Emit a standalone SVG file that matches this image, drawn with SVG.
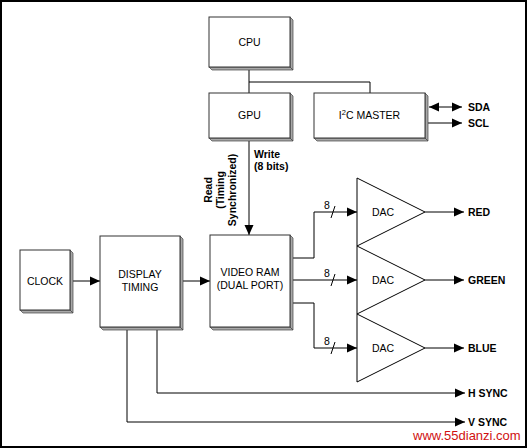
<svg xmlns="http://www.w3.org/2000/svg" width="527" height="448" viewBox="0 0 527 448">
<defs>
<marker id="ah" markerUnits="userSpaceOnUse" markerWidth="10" markerHeight="10" refX="10" refY="5" orient="auto">
<path d="M0,0.5 L10,5 L0,9.5 z" fill="#000"/>
</marker>
<marker id="ahs" markerUnits="userSpaceOnUse" markerWidth="10" markerHeight="10" refX="10" refY="5" orient="auto-start-reverse">
<path d="M0,0.5 L10,5 L0,9.5 z" fill="#000"/>
</marker>
</defs>
<style>
.box{fill:#fff;stroke:#333;stroke-width:1}
.sh{fill:#a8a8a8;stroke:#444;stroke-width:0.7}
.t{font-family:"Liberation Sans",Arial,sans-serif;font-size:10.5px;fill:#000;text-anchor:middle}
.b{font-family:"Liberation Sans",Arial,sans-serif;font-size:10.5px;font-weight:bold;fill:#000}
.w{fill:none;stroke:#000;stroke-width:1}
.a{fill:none;stroke:#000;stroke-width:1;marker-end:url(#ah)}
.dac{fill:#fff;stroke:#000;stroke-width:1}
</style>
<rect x="1" y="1" width="525" height="446" fill="#fff" stroke="#000" stroke-width="2"/>

<g id="connectors">
<polyline class="w" points="249,68 249,93"/>
<polyline class="w" points="249,82 370,82 370,93"/>
<line x1="429" y1="107" x2="462" y2="107" stroke="#000" marker-start="url(#ahs)" marker-end="url(#ah)"/>
<line class="a" x1="425" y1="123" x2="462" y2="123"/>
<line class="a" x1="249" y1="141" x2="249" y2="235"/>
<line class="a" x1="73" y1="281" x2="100" y2="281"/>
<line class="a" x1="183" y1="281" x2="210" y2="281"/>
<polyline class="a" points="293,258 314,258 314,212 357,212"/>
<line class="a" x1="293" y1="280" x2="357" y2="280"/>
<polyline class="a" points="293,303 314,303 314,348 357,348"/>
<line class="w" x1="331" y1="218" x2="335" y2="206"/>
<line class="w" x1="331" y1="286" x2="335" y2="274"/>
<line class="w" x1="331" y1="354" x2="335" y2="342"/>
<text class="t" x="327" y="209" font-size="10">8</text>
<text class="t" x="327" y="277" font-size="10">8</text>
<text class="t" x="327" y="345" font-size="10">8</text>
<line class="a" x1="425" y1="212" x2="464" y2="212"/>
<line class="a" x1="425" y1="280" x2="464" y2="280"/>
<line class="a" x1="425" y1="348" x2="464" y2="348"/>
<polyline class="a" points="157,328 157,393 465,393"/>
<polyline class="a" points="127,328 127,422 465,422"/>
<text class="b" x="254" y="158">Write</text>
<text class="b" x="254" y="170">(8 bits)</text>
<g transform="translate(219,190) rotate(-90)">
<text class="b" text-anchor="middle" x="0" y="-7">Read</text>
<text class="b" text-anchor="middle" x="0" y="5">(Timing</text>
<text class="b" text-anchor="middle" x="0" y="17">Synchronized)</text>
</g>
</g>

<g id="cpu">
<polygon class="sh" points="290,17 293,20 293,70 290,67"/>
<polygon class="sh" points="209,67 212,70 293,70 290,67"/>
<rect class="box" x="209" y="17" width="81" height="50"/>
<text class="t" x="249.5" y="46">CPU</text>
</g>
<g id="gpu">
<polygon class="sh" points="290,93 293,96 293,141 290,138"/>
<polygon class="sh" points="209,138 212,141 293,141 290,138"/>
<rect class="box" x="209" y="93" width="81" height="45"/>
<text class="t" x="249.5" y="119">GPU</text>
</g>
<g id="i2c">
<polygon class="sh" points="425,93 428,96 428,141 425,138"/>
<polygon class="sh" points="314,138 317,141 428,141 425,138"/>
<rect class="box" x="314" y="93" width="111" height="45"/>
<text class="t" x="369.5" y="119">I<tspan font-size="7.5" dy="-4">2</tspan><tspan dy="4">C MASTER</tspan></text>
</g>
<g id="sda"><text class="b" x="468" y="111">SDA</text></g>
<g id="scl"><text class="b" x="468" y="127">SCL</text></g>
<g id="clock">
<polygon class="sh" points="70,250 73,253 73,313 70,310"/>
<polygon class="sh" points="20,310 23,313 73,313 70,310"/>
<rect class="box" x="20" y="250" width="50" height="60"/>
<text class="t" x="45" y="285">CLOCK</text>
</g>
<g id="display-timing">
<polygon class="sh" points="180,236 183,239 183,330 180,327"/>
<polygon class="sh" points="100,327 103,330 183,330 180,327"/>
<rect class="box" x="100" y="236" width="80" height="91"/>
<text class="t" x="140" y="278">DISPLAY</text>
<text class="t" x="140" y="291">TIMING</text>
</g>
<g id="video-ram">
<polygon class="sh" points="290,235 293,238 293,330 290,327"/>
<polygon class="sh" points="210,327 213,330 293,330 290,327"/>
<rect class="box" x="210" y="235" width="80" height="92"/>
<text class="t" x="250" y="276">VIDEO RAM</text>
<text class="t" x="250" y="289">(DUAL PORT)</text>
</g>
<g id="dac-red">
<polygon class="dac" points="357,178 425,212 357,246"/>
<text class="t" x="383" y="216">DAC</text>
</g>
<g id="dac-green">
<polygon class="dac" points="357,246 425,280 357,314"/>
<text class="t" x="383" y="284">DAC</text>
</g>
<g id="dac-blue">
<polygon class="dac" points="357,314 425,348 357,382"/>
<text class="t" x="383" y="352">DAC</text>
</g>
<g id="outputs">
<text class="b" x="468" y="216">RED</text>
<text class="b" x="468" y="284">GREEN</text>
<text class="b" x="468" y="352">BLUE</text>
<text class="b" x="468" y="397">H SYNC</text>
<text class="b" x="468" y="426">V SYNC</text>
</g>
<text x="413" y="440" font-family="'Liberation Sans',Arial,sans-serif" font-size="13" fill="#d01010">www.55dianzi.com</text>
</svg>
